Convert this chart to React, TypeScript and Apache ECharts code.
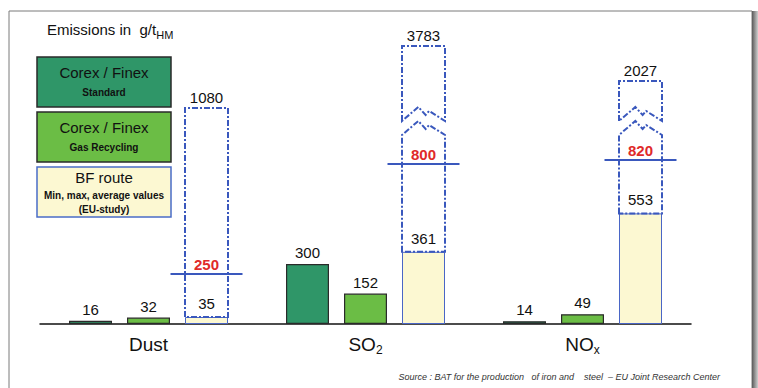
import React, { useEffect, useRef } from "react";
import * as echarts from "echarts";

const categories = ["Dust", "SO2", "NOx"];
const corexStandard = [16, 300, 14];
const corexGasRecycling = [32, 152, 49];
const bfMin = [35, 361, 553];
const bfMax = [1080, 3783, 2027];
const bfAverage = [250, 800, 820];
// broken value axis for the BF maximum: value at which the box top is drawn,
// and the band (in axis values) that is cut out of the box
const bfMaxDrawnAt = [1080, 1390, 1215];
const breakFrom = [-1, 945, 945];
const breakTo = [-1, 1015, 1015];

const FONT = "'Liberation Sans', Arial, Helvetica, sans-serif";
const DARK_GREEN = "#2f9668";
const LIGHT_GREEN = "#6bbd45";
const PALE = "#fcf8d2";
const BLUE = "#3a58bd";
const RED = "#e02a2a";
const BAR_W = 43;
const BAR_GAP_PX = 15;

const labelRich = {
  m: { fontSize: 19, lineHeight: 24, color: "#111", fontFamily: FONT },
  s: { fontSize: 12, lineHeight: 10, color: "#111", fontFamily: FONT, verticalAlign: "bottom" },
};

function zig(L: number, R: number, y0: number, reverse: boolean) {
  const w = R - L;
  const pts = [
    [L, y0],
    [L + 0.38 * w, y0 - 14],
    [L + 0.55 * w, y0 - 6],
    [L + 0.63 * w, y0 - 10],
    [R, y0],
  ];
  return reverse ? pts.reverse() : pts;
}

export default function App() {
  const ref = useRef<HTMLDivElement>(null);
  useEffect(() => {
    if (!ref.current) return;
    const chart = echarts.init(ref.current, undefined, { renderer: "svg" });
    const boxStyle = { fill: "none", stroke: BLUE, lineWidth: 2, lineDash: [6, 2, 2, 2] };
    const option: any = {
      animation: false,
      backgroundColor: "#fff",
      grid: { left: 40, right: 67, top: 24, bottom: 64 },
      xAxis: {
        type: "category",
        data: categories,
        axisLine: { lineStyle: { color: "#111", width: 1.5 } },
        axisTick: { show: false },
        axisLabel: {
          margin: 8,
          formatter: (v: string) =>
            v === "SO2" ? "{m|SO}{s|2}" : v === "NOx" ? "{m|NO}{s|x}" : "{m|" + v + "}",
          rich: labelRich,
        },
      },
      yAxis: { type: "value", min: 0, max: 1500, show: false, splitLine: { show: false } },
      series: [
        {
          name: "Corex / Finex Standard",
          type: "bar",
          barWidth: BAR_W,
          barGap: (BAR_GAP_PX / BAR_W) * 100 + "%",
          data: corexStandard,
          itemStyle: { color: DARK_GREEN, borderColor: "#2a2a2a", borderWidth: 1.2 },
          label: { show: true, position: "top", distance: 4, fontSize: 15, color: "#111", fontFamily: FONT },
        },
        {
          name: "Corex / Finex Gas Recycling",
          type: "bar",
          barWidth: BAR_W,
          data: corexGasRecycling,
          itemStyle: { color: LIGHT_GREEN, borderColor: "#2a2a2a", borderWidth: 1.2 },
          label: { show: true, position: "top", distance: 4, fontSize: 15, color: "#111", fontFamily: FONT },
        },
        {
          name: "BF route min",
          type: "bar",
          barWidth: BAR_W,
          data: bfMin,
          itemStyle: { color: PALE, borderColor: "#4a66c6", borderWidth: 1 },
          label: { show: true, position: "top", distance: 6, fontSize: 15, color: "#111", fontFamily: FONT },
          z: 2,
        },
        {
          name: "BF route max / average",
          type: "custom",
          z: 5,
          data: categories.map((c, i) => [i, bfMin[i], bfMaxDrawnAt[i], bfAverage[i], breakFrom[i], breakTo[i], bfMax[i]]),
          renderItem: (params: any, api: any) => {
            const i = api.value(0);
            const cx = api.coord([i, 0])[0] + BAR_W + BAR_GAP_PX;
            const L = cx - BAR_W / 2;
            const R = cx + BAR_W / 2;
            const yMin = api.coord([i, api.value(1)])[1];
            const yTop = api.coord([i, api.value(2)])[1];
            const yAvg = api.coord([i, api.value(3)])[1];
            const bFrom = api.value(4);
            const bTo = api.value(5);
            const children: any[] = [];
            if (bFrom < 0) {
              children.push({
                type: "polygon",
                shape: { points: [[L, yMin], [L, yTop], [R, yTop], [R, yMin]] },
                style: boxStyle,
              });
            } else {
              const yHi = api.coord([i, bTo])[1];
              const yLo = api.coord([i, bFrom])[1];
              children.push({
                type: "polygon",
                shape: { points: [[L, yHi], [L, yTop], [R, yTop], ...zig(L, R, yHi, true)] },
                style: boxStyle,
              });
              children.push({
                type: "polygon",
                shape: { points: [[L, yMin], ...zig(L, R, yLo, false), [R, yMin]] },
                style: boxStyle,
              });
            }
            children.push({
              type: "line",
              shape: { x1: cx - 36, y1: yAvg, x2: cx + 36, y2: yAvg },
              style: { stroke: BLUE, lineWidth: 2 },
            });
            children.push({
              type: "text",
              x: cx,
              y: yAvg - 10,
              style: {
                text: String(api.value(3)),
                fill: RED,
                fontSize: 15,
                fontWeight: "bold",
                fontFamily: FONT,
                align: "center",
                verticalAlign: "middle",
              },
            });
            children.push({
              type: "text",
              x: cx,
              y: yTop - 11,
              style: {
                text: String(api.value(6)),
                fill: "#111",
                fontSize: 15,
                fontFamily: FONT,
                align: "center",
                verticalAlign: "middle",
              },
            });
            return { type: "group", children };
          },
        },
      ],
      graphic: [
        // frame
        { type: "rect", shape: { x: 9, y: 11, width: 743, height: 400 }, style: { fill: "none", stroke: "#7a7a7a", lineWidth: 1 }, silent: true },
        {
          type: "rect",
          shape: { x: 752, y: 11, width: 6, height: 400 },
          style: {
            fill: new echarts.graphic.LinearGradient(0, 0, 1, 0, [
              { offset: 0, color: "#5a5a5a" },
              { offset: 1, color: "#cfcfcf" },
            ]),
          },
          silent: true,
        },
        // title
        {
          type: "text",
          left: 47,
          top: 22,
          style: {
            text: "{a|Emissions in  g/t}{b|HM}",
            rich: {
              a: { fontSize: 15, lineHeight: 22, fill: "#111", fontFamily: FONT },
              b: { fontSize: 11, lineHeight: 10, fill: "#111", fontFamily: FONT, verticalAlign: "bottom" },
            },
          },
        },
        // legend boxes
        { type: "rect", shape: { x: 37, y: 57, width: 134, height: 50 }, style: { fill: DARK_GREEN, stroke: "#2a2a2a", lineWidth: 1.5 } },
        { type: "text", x: 104, y: 72, style: { text: "Corex / Finex", fill: "#111", fontSize: 15, fontFamily: FONT, align: "center", verticalAlign: "middle" } },
        { type: "text", x: 104, y: 92, style: { text: "Standard", fill: "#111", fontSize: 10, fontWeight: "bold", fontFamily: FONT, align: "center", verticalAlign: "middle" } },
        { type: "rect", shape: { x: 37, y: 112, width: 134, height: 50 }, style: { fill: LIGHT_GREEN, stroke: "#2a2a2a", lineWidth: 1.5 } },
        { type: "text", x: 104, y: 127, style: { text: "Corex / Finex", fill: "#111", fontSize: 15, fontFamily: FONT, align: "center", verticalAlign: "middle" } },
        { type: "text", x: 104, y: 147, style: { text: "Gas Recycling", fill: "#111", fontSize: 10, fontWeight: "bold", fontFamily: FONT, align: "center", verticalAlign: "middle" } },
        { type: "rect", shape: { x: 37, y: 167, width: 134, height: 50 }, style: { fill: PALE, stroke: "#4a6cc8", lineWidth: 1.5 } },
        { type: "text", x: 104, y: 177, style: { text: "BF route", fill: "#111", fontSize: 15, fontFamily: FONT, align: "center", verticalAlign: "middle" } },
        { type: "text", x: 104, y: 195, style: { text: "Min, max, average values", fill: "#111", fontSize: 10, fontWeight: "bold", fontFamily: FONT, align: "center", verticalAlign: "middle" } },
        { type: "text", x: 104, y: 209, style: { text: "(EU-study)", fill: "#111", fontSize: 10, fontWeight: "bold", fontFamily: FONT, align: "center", verticalAlign: "middle" } },
        // source
        {
          type: "text",
          x: 720,
          y: 377,
          style: {
            text: "Source : BAT for the production   of iron and    steel  \u2013 EU Joint Research Center",
            fill: "#333",
            fontSize: 9,
            fontStyle: "italic",
            fontFamily: FONT,
            align: "right",
            verticalAlign: "middle",
          },
        },
      ],
    };
    chart.setOption(option);
    return () => chart.dispose();
  }, []);
  return <div ref={ref} style={{ position: "absolute", left: 0, top: 0, width: 758, height: 388 }} />;
}
